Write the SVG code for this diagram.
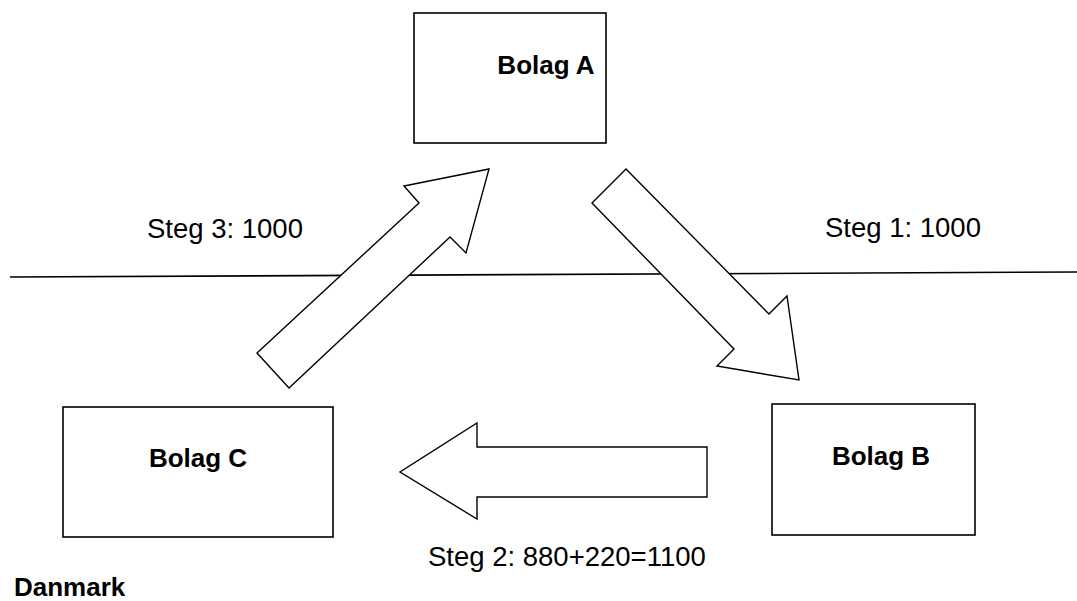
<svg xmlns="http://www.w3.org/2000/svg" width="1077" height="601" viewBox="0 0 1077 601">
  <style>
    .box { fill: #ffffff; stroke: #000000; stroke-width: 1.6; }
    .arrow { fill: #ffffff; stroke: #000000; stroke-width: 1.4; stroke-linejoin: miter; }
    .label { font-family: "Liberation Sans", Arial, sans-serif; font-size: 26px; font-weight: bold; fill: #000000; }
    .step { font-family: "Liberation Sans", Arial, sans-serif; font-size: 27.5px; fill: #000000; }
  </style>
  <rect width="1077" height="601" fill="#ffffff"/>

  <!-- border line -->
  <line x1="10" y1="277" x2="1077" y2="272" stroke="#000000" stroke-width="1.6"/>

  <g id="connectors">
    <!-- Steg 1: A to B -->
    <polygon class="arrow" points="626,169 769,314 787,296 799,380 717,366 734,349 592,203"/>
    <!-- Steg 2: B to C -->
    <polygon class="arrow" points="707,447 477,447 477,423 400,472 477,519 477,497 707,497"/>
    <!-- Steg 3: C to A -->
    <polygon class="arrow" points="257,353 419,203 404,186 489,169 466,253 450,237 289,388"/>
  </g>

  <g id="bolag-a">
    <rect class="box" x="414" y="13" width="192" height="130"/>
    <text class="label" x="546" y="74" text-anchor="middle">Bolag A</text>
  </g>
  <g id="bolag-b">
    <rect class="box" x="772" y="404" width="203" height="131"/>
    <text class="label" x="881" y="465" text-anchor="middle">Bolag B</text>
  </g>
  <g id="bolag-c">
    <rect class="box" x="63" y="407" width="270" height="130"/>
    <text class="label" x="198" y="467" text-anchor="middle">Bolag C</text>
  </g>

  <text class="step" x="147" y="238">Steg 3: 1000</text>
  <text class="step" x="825" y="237">Steg 1: 1000</text>
  <text class="step" x="428" y="566">Steg 2: 880+220=1100</text>
  <text class="label" x="14" y="596">Danmark</text>
</svg>
